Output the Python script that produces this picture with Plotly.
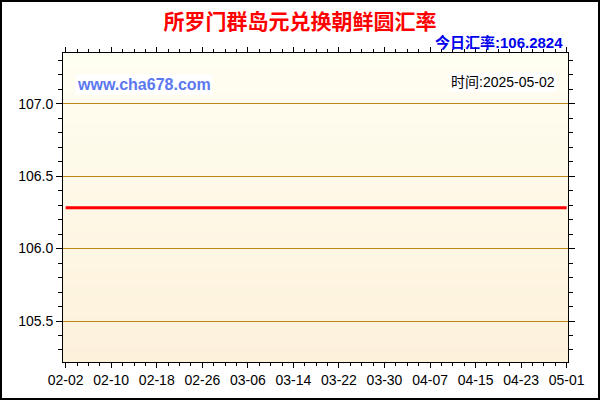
import plotly.graph_objects as go

# 汇率数据（图上是一条平线）
dates = ['2025-02-02', '2025-02-10', '2025-02-18', '2025-02-26', '2025-03-06', '2025-03-14',
         '2025-03-22', '2025-03-30', '2025-04-07', '2025-04-15', '2025-04-23', '2025-05-01']
rates = [106.2824, 106.2824, 106.2824, 106.2824, 106.2824, 106.2824,
         106.2824, 106.2824, 106.2824, 106.2824, 106.2824, 106.2824]
title_text = '所罗门群岛元兑换朝鲜圆汇率'
today_rate = '106.2824'
query_date = '2025-05-02'

fig = go.Figure()
fig.add_trace(go.Scatter(x=dates, y=rates, mode='lines', line=dict(color='#FF0000', width=3),
                         hoverinfo='x+y', showlegend=False))

L, R, T, B = 63, 32, 53, 38
pw, ph = 600 - L - R, 400 - T - B


def px(x):
    return (x - L) / pw


def py(y):
    return (400 - B - y) / ph


# 背景渐变（上浅下深）
shapes = []
n = 40
top = (255, 254, 242)
bot = (253, 241, 218)
for i in range(n):
    t = (i + 0.5) / n
    c = tuple(round(top[k] + (bot[k] - top[k]) * t) for k in range(3))
    shapes.append(dict(type='rect', xref='x domain', yref='y domain', x0=0, x1=1,
                       y0=1 - (i + 1) / n, y1=1 - i / n + 0.001, line_width=0,
                       fillcolor='rgb(%d,%d,%d)' % c, layer='below'))
# 外框
shapes.append(dict(type='rect', xref='paper', yref='paper',
                   x0=px(1), x1=px(599), y0=py(399), y1=py(1),
                   line=dict(color='black', width=2), fillcolor='rgba(0,0,0,0)'))

fig.update_layout(
    width=600, height=400,
    margin=dict(l=L, r=R, t=T, b=B),
    paper_bgcolor='white',
    plot_bgcolor='rgba(0,0,0,0)',
    shapes=shapes,
    font=dict(family='Liberation Sans, Arial', size=14, color='black'),
    title=dict(text='<b>' + title_text + '</b>', x=0.5, xref='container', xanchor='center',
               y=1 - 22 / 400, yanchor='middle',
               font=dict(family='Noto Sans CJK SC', size=21, color='#FF0000')),
)

fig.add_annotation(xref='paper', yref='paper', x=px(565), y=py(43),
                   xanchor='right', yanchor='middle', showarrow=False,
                   text='<b>今日汇率:' + today_rate + '</b>',
                   font=dict(family='Liberation Sans, Noto Sans CJK SC', size=15, color='#0000EE'))
fig.add_annotation(xref='paper', yref='paper', x=px(75), y=py(84),
                   xanchor='left', yanchor='middle', showarrow=False, bgcolor='white',
                   text='<b>www.cha678.com</b>',
                   font=dict(family='Liberation Sans, Arial', size=16, color='#5B78F0'))
fig.add_annotation(xref='paper', yref='paper', x=px(557), y=py(82),
                   xanchor='right', yanchor='middle', showarrow=False, bgcolor='white',
                   text='时间:' + query_date,
                   font=dict(family='Liberation Sans, Noto Sans CJK SC', size=14, color='black'))

fig.update_xaxes(
    type='date', range=['2025-02-01 12:40', '2025-05-01 05:30'],
    tick0='2025-02-02', dtick=8 * 86400000, tickformat='%m-%d',
    ticks='outside', ticklen=5, tickcolor='black', tickwidth=1,
    minor=dict(dtick=2 * 86400000, ticks='outside', ticklen=3, tickcolor='black'),
    showgrid=False, zeroline=False,
    showline=True, linecolor='black', linewidth=1, mirror='allticks',
    tickfont=dict(size=14, color='black'),
)
fig.update_yaxes(
    range=[105.217, 107.35], tick0=105.5, dtick=0.5, tickformat='.1f',
    ticks='outside', ticklen=6, tickcolor='black', tickwidth=1,
    minor=dict(dtick=0.1, ticks='outside', ticklen=4, tickcolor='black'),
    showgrid=True, gridcolor='#BA8812', gridwidth=1, zeroline=False,
    showline=True, linecolor='black', linewidth=1, mirror='allticks',
    tickfont=dict(size=14, color='black'),
)

fig.write_html('out.html', config={'displayModeBar': False},
               post_script="document.body.style.margin='0';")
